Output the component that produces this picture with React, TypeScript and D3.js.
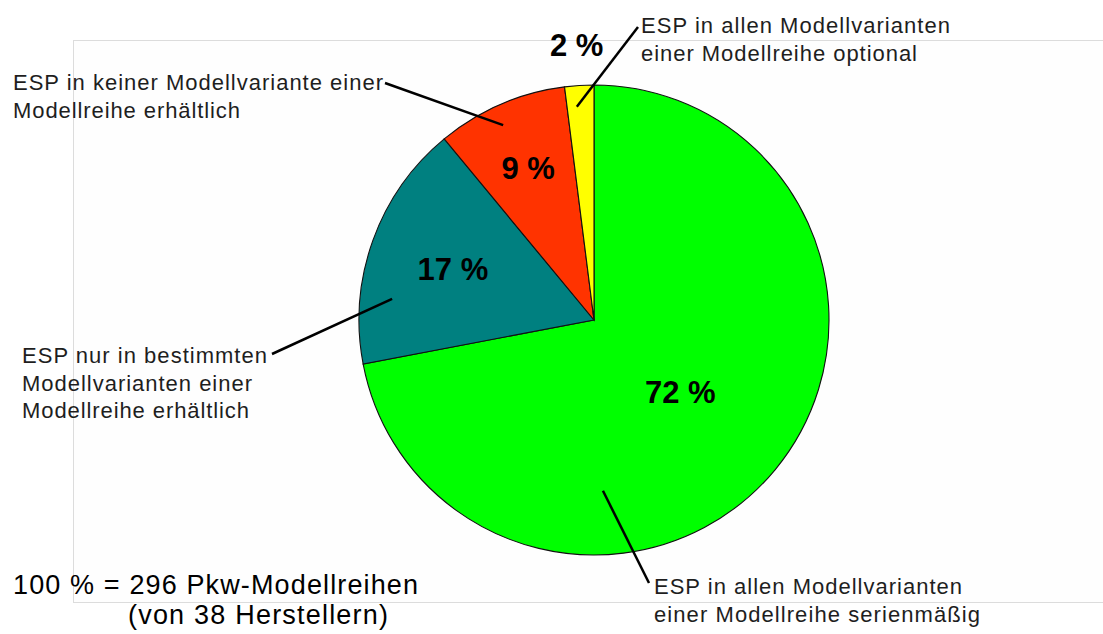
import React, { useEffect, useRef } from 'react';
import * as d3 from 'd3';

// ESP-Ausstattung der Pkw-Modellreihen
const shares = [72, 17, 9, 2];
const sliceColors = ['#00ff00', '#008080', '#ff3300', '#ffff00'];
const percentLabels = ['72 %', '17 %', '9 %', '2 %'];
const categoryLabels = [
    ['ESP in allen Modellvarianten', 'einer Modellreihe serienmäßig'],
    ['ESP nur in bestimmten', 'Modellvarianten einer', 'Modellreihe erhältlich'],
    ['ESP in keiner Modellvariante einer', 'Modellreihe erhältlich'],
    ['ESP in allen Modellvarianten', 'einer Modellreihe optional'],
];
const footerLines = ['100 % = 296 Pkw-Modellreihen', '(von 38 Herstellern)'];

const W = 1103, H = 634;
const cx = 594, cy = 320, radius = 235;

// layout of the annotations (per slice, same order as shares)
const pctRadius = [112, 150, 166, 276];
const labelPos = [
    { x: 654, y: 594, widths: [308, 326] },
    { x: 22, y: 363, widths: [245, 230, 227] },
    { x: 13, y: 90, widths: [370, 227] },
    { x: 641, y: 33, widths: [309, 276] },
];
// leader lines: angle (deg) + radius of the inner end, outer end point
const leaders = [
    { a: 177, r: 171, x: 649, y: 583 },
    { a: 276, r: 203, x: 272, y: 354 },
    { a: 335, r: 215, x: 385, y: 83 },
    { a: 355.4, r: 214, x: 638, y: 27 },
];

export default function App() {
    const ref = useRef<SVGSVGElement>(null);

    useEffect(() => {
        const svg = d3.select(ref.current);
        svg.selectAll('*').remove();

        // faint frame of the original slide
        svg.append('rect')
            .attr('x', 73.5).attr('y', 40.5)
            .attr('width', W).attr('height', 562)
            .attr('fill', '#fefefe')
            .attr('stroke', '#dcdcdc');

        const pie = d3.pie<number>().sort(null).value(d => d);
        const arcs = pie(shares);
        const arc = d3.arc<d3.PieArcDatum<number>>().innerRadius(0).outerRadius(radius);

        const g = svg.append('g').attr('transform', `translate(${cx},${cy})`);

        g.selectAll('path.slice')
            .data(arcs)
            .enter()
            .append('path')
            .attr('class', 'slice')
            .attr('d', arc)
            .attr('fill', (d, i) => sliceColors[i])
            .attr('stroke', '#111')
            .attr('stroke-width', 1.1);

        // percentage labels
        g.selectAll('text.pct')
            .data(arcs)
            .enter()
            .append('text')
            .attr('class', 'pct')
            .attr('x', (d, i) => pctRadius[i] * Math.sin((d.startAngle + d.endAngle) / 2))
            .attr('y', (d, i) => -pctRadius[i] * Math.cos((d.startAngle + d.endAngle) / 2))
            .attr('dy', '0.36em')
            .attr('text-anchor', 'middle')
            .attr('font-family', '"Liberation Sans", Arial, sans-serif')
            .attr('font-weight', 'bold')
            .attr('font-size', 31)
            .attr('fill', '#000')
            .text((d, i) => percentLabels[i]);

        // leader lines
        svg.selectAll('line.leader')
            .data(leaders)
            .enter()
            .append('line')
            .attr('class', 'leader')
            .attr('x1', d => cx + d.r * Math.sin(d.a * Math.PI / 180))
            .attr('y1', d => cy - d.r * Math.cos(d.a * Math.PI / 180))
            .attr('x2', d => d.x)
            .attr('y2', d => d.y)
            .attr('stroke', '#000')
            .attr('stroke-width', 2.5);

        // category labels
        categoryLabels.forEach((lines, i) => {
            const p = labelPos[i];
            const t = svg.append('text')
                .attr('font-family', '"Liberation Sans", Arial, sans-serif')
                .attr('font-size', 22)
                .attr('fill', '#1e1e1e');
            lines.forEach((line, j) => {
                t.append('tspan')
                    .attr('x', p.x)
                    .attr('y', p.y + j * 27.5)
                    .attr('textLength', p.widths[j])
                    .attr('lengthAdjust', 'spacing')
                    .text(line);
            });
        });

        // footer
        svg.append('text')
            .attr('x', 13).attr('y', 594)
            .attr('font-family', '"Liberation Sans", Arial, sans-serif')
            .attr('font-size', 27)
            .attr('textLength', 405)
            .attr('lengthAdjust', 'spacing')
            .attr('fill', '#000')
            .text(footerLines[0]);
        svg.append('text')
            .attr('x', 128).attr('y', 624)
            .attr('font-family', '"Liberation Sans", Arial, sans-serif')
            .attr('font-size', 27)
            .attr('textLength', 260)
            .attr('lengthAdjust', 'spacing')
            .attr('fill', '#000')
            .text(footerLines[1]);
    }, []);

    return (
        <svg
            ref={ref}
            width={W}
            height={H}
            style={{ position: 'absolute', left: 0, top: 0, background: '#fff' }}
        />
    );
}
